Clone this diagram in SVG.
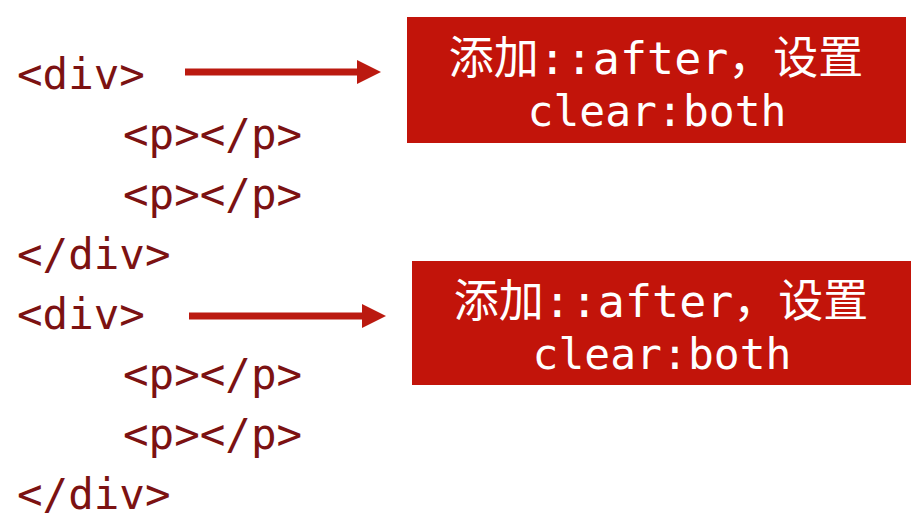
<svg xmlns="http://www.w3.org/2000/svg" width="919" height="526" viewBox="0 0 919 526">
<style>
.code{font-family:"DejaVu Sans Mono","Liberation Mono",monospace;font-size:42.5px;fill:#7c1212}
.box{fill:#c2140a}
.bt{font-family:"DejaVu Sans Mono","Noto Sans CJK SC",monospace;fill:#ffffff;text-anchor:middle}
.l1{font-size:45px}
.l2{font-size:43px}
.arr{stroke:#bb1a10;stroke-width:7;fill:none}
</style>
<defs>
<marker id="ah" markerUnits="userSpaceOnUse" markerWidth="24" markerHeight="24" refX="0" refY="12" orient="auto" viewBox="0 0 24 24">
<polygon points="0,0 24,12 0,24" fill="#bb1a10"/>
</marker>
</defs>
<rect width="919" height="526" fill="#ffffff"/>
<g id="code">
<text class="code" x="17" y="89">&lt;div&gt;</text>
<text class="code" x="123" y="149">&lt;p&gt;&lt;/p&gt;</text>
<text class="code" x="123" y="209">&lt;p&gt;&lt;/p&gt;</text>
<text class="code" x="17" y="269">&lt;/div&gt;</text>
<text class="code" x="17" y="329">&lt;div&gt;</text>
<text class="code" x="123" y="389">&lt;p&gt;&lt;/p&gt;</text>
<text class="code" x="123" y="449">&lt;p&gt;&lt;/p&gt;</text>
<text class="code" x="17" y="509">&lt;/div&gt;</text>
</g>
<g id="box1">
<rect class="box" x="407" y="17" width="499" height="126"/>
<text class="bt l1" x="656" y="74">添加::after，设置</text>
<text class="bt l2" x="657" y="126">clear:both</text>
</g>
<g id="box2">
<rect class="box" x="412" y="261" width="499" height="124"/>
<text class="bt l1" x="661" y="317">添加::after，设置</text>
<text class="bt l2" x="662" y="369">clear:both</text>
</g>
<g id="connectors">
<line class="arr" x1="185" y1="72" x2="357" y2="72" marker-end="url(#ah)"/>
<line class="arr" x1="189" y1="316" x2="362" y2="316" marker-end="url(#ah)"/>
</g>
</svg>
